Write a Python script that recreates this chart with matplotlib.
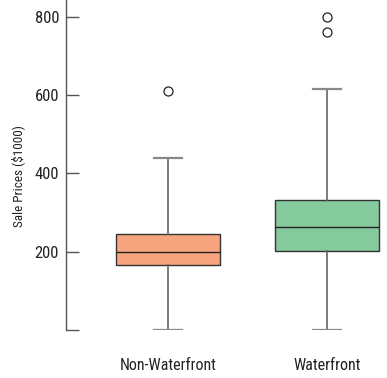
import matplotlib
matplotlib.use('Agg')
import matplotlib.pyplot as plt
from matplotlib import font_manager

# Five-number summaries (sale prices in $1000)
categories = ['Non-Waterfront', 'Waterfront']
whisker_low = [0, 0]
q1 = [167, 202]
medians = [200, 264]
q3 = [246, 333]
whisker_high = [440, 616]
outliers = [[611], [762, 800]]
box_colors = ['#F7A57E', '#84CA9C']

yticks = [0, 200, 400, 600, 800]
ytick_labels = ['', '200', '400', '600', '800']

names = {f.name for f in font_manager.fontManager.ttflist}
family = [n for n in ['Liberation Sans Narrow', 'Roboto Condensed', 'Roboto'] if n in names][:1]
plt.rcParams['font.family'] = family + ['DejaVu Sans']

stats = []
for i, name in enumerate(categories):
    stats.append(dict(label=name, whislo=whisker_low[i], q1=q1[i], med=medians[i],
                      q3=q3[i], whishi=whisker_high[i], fliers=outliers[i]))

fig = plt.figure(figsize=(3.87, 3.78), dpi=100)
ax = fig.add_axes([66 / 387, 1 - 330 / 378, 1 - 66 / 387, 330 / 378])

bp = ax.bxp(stats, positions=[1, 2], widths=0.654, patch_artist=True,
            capwidths=0.176,
            flierprops=dict(marker='o', markerfacecolor='white', markeredgecolor='#222222',
                            markersize=6.5, markeredgewidth=0.9),
            medianprops=dict(color='#222222', linewidth=1.0),
            whiskerprops=dict(color='#666666', linewidth=1.2),
            capprops=dict(color='#888888', linewidth=1.6),
            boxprops=dict(edgecolor='#333333', linewidth=1.0))
for patch, c in zip(bp['boxes'], box_colors):
    patch.set_facecolor(c)

ax.set_xlim(1 - 102 / 159, 2 + 60 / 159)
ax.set_ylim(0, 843)
ax.set_yticks(yticks)
ax.set_yticklabels(ytick_labels, fontsize=12, color='#222222')
ax.tick_params(axis='y', direction='in', length=9, width=1.0, color='#555555', pad=5)
ax.tick_params(axis='x', length=0, pad=20, labelsize=11.5, labelcolor='#222222')

for s in ['top', 'right', 'bottom']:
    ax.spines[s].set_visible(False)
ax.spines['left'].set_color('#555555')
ax.spines['left'].set_linewidth(1.0)

ax.set_ylabel('Sale Prices ($1000)', fontsize=9.5, color='#222222')
ax.yaxis.set_label_coords(-41 / 321, 0.467)

fig.savefig('out.png', dpi=100)
